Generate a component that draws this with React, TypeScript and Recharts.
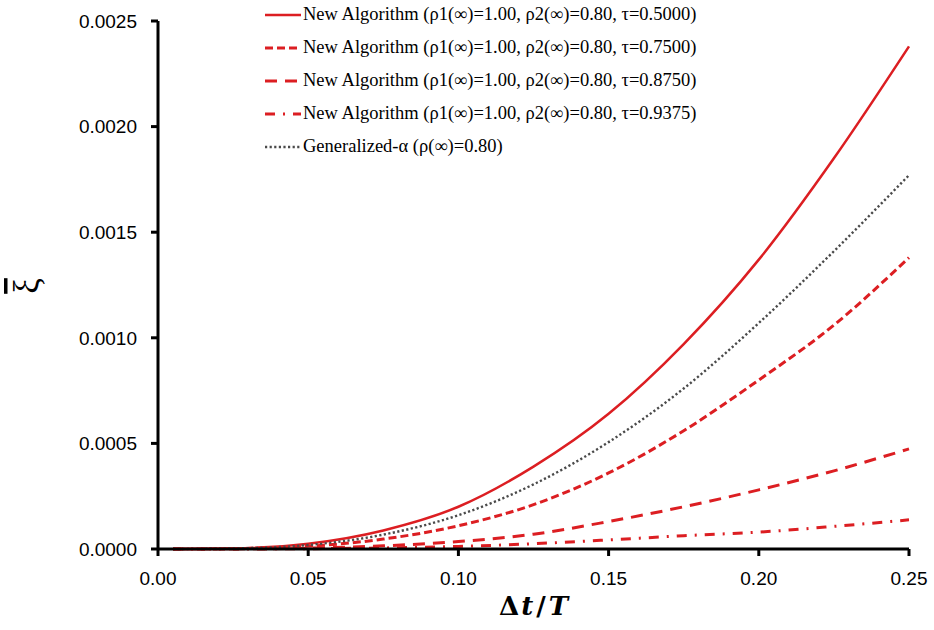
import { LineChart, Line, XAxis, YAxis, Legend, Label } from 'recharts'

// Δt/T sample points and ξ̄ values
const dtT = [0.005, 0.025, 0.05, 0.075, 0.1, 0.125, 0.15, 0.175, 0.2, 0.225, 0.25]
const tau5000 = [0, 0.000003, 0.000025, 0.000088, 0.0002, 0.00039, 0.00064, 0.00097, 0.00137, 0.00185, 0.00238]
const tau7500 = [0, 0.0000016, 0.000013, 0.000047, 0.00011, 0.00021, 0.00036, 0.00056, 0.0008, 0.00106, 0.00138]
const tau8750 = [0, 0.0000005, 0.000004, 0.000015, 0.000035, 0.00007, 0.00013, 0.0002, 0.00028, 0.00037, 0.000474]
const tau9375 = [0, 0.0000002, 0.0000015, 0.000005, 0.000012, 0.000025, 0.000043, 0.000063, 0.00008, 0.000107, 0.000138]
const genAlpha = [0, 0.0000025, 0.000019, 0.000068, 0.00016, 0.000306, 0.000506, 0.00076, 0.00107, 0.00141, 0.00177]

const xTicks = [0, 0.05, 0.1, 0.15, 0.2, 0.25]
const yTicks = [0, 0.0005, 0.001, 0.0015, 0.002, 0.0025]

const RED = '#DC1E22'
const GREY = '#4a4a4a'

const series = [
  { key: 't5000', name: 'New Algorithm (ρ1(∞)=1.00, ρ2(∞)=0.80, τ=0.5000)', color: RED, dash: undefined, width: 2.5 },
  { key: 't7500', name: 'New Algorithm (ρ1(∞)=1.00, ρ2(∞)=0.80, τ=0.7500)', color: RED, dash: '8 4', width: 3 },
  { key: 't8750', name: 'New Algorithm (ρ1(∞)=1.00, ρ2(∞)=0.80, τ=0.8750)', color: RED, dash: '12 8', width: 3 },
  { key: 't9375', name: 'New Algorithm (ρ1(∞)=1.00, ρ2(∞)=0.80, τ=0.9375)', color: RED, dash: '10 8 2 8', width: 3 },
  { key: 'galpha', name: 'Generalized-α (ρ(∞)=0.80)', color: GREY, dash: '2.2 2.4', width: 2.4 },
]

const data = dtT.map((t, i) => ({
  t,
  t5000: tau5000[i],
  t7500: tau7500[i],
  t8750: tau8750[i],
  t9375: tau9375[i],
  galpha: genAlpha[i],
}))

const axisFont = { fontFamily: 'Liberation Sans, Arial, sans-serif', fontSize: 19, fill: '#000' }

function LegendBox() {
  return (
    <div style={{ fontFamily: '"Liberation Serif", "Times New Roman", serif', fontSize: 18.5, color: '#000' }}>
      {series.map((s) => (
        <div key={s.key} style={{ display: 'flex', alignItems: 'center', height: 33, whiteSpace: 'nowrap' }}>
          <svg width={36} height={6} style={{ marginRight: 2 }}>
            <line x1={0} y1={3} x2={36} y2={3} stroke={s.color} strokeWidth={s.width} strokeDasharray={s.dash} />
          </svg>
          <span>{s.name}</span>
        </div>
      ))}
    </div>
  )
}

function XTitle(props: any) {
  const vb = props.viewBox
  const cx = vb.x + vb.width / 2
  return (
    <text x={cx} y={vb.y + 66} textAnchor="middle" fontFamily="DejaVu Serif, serif" fontSize={26} fontWeight="bold" fill="#000">
      <tspan>Δ</tspan>
      <tspan fontStyle="italic" dx={2}>t</tspan>
      <tspan dx={3}>/</tspan>
      <tspan fontStyle="italic" dx={3}>T</tspan>
    </text>
  )
}

function YTitle() {
  return (
    <text
      x={0}
      y={0}
      transform="translate(38, 286) rotate(-90)"
      textAnchor="middle"
      fontFamily="Liberation Serif, serif"
      fontSize={35}
      fill="#000"
      style={{ textDecoration: 'overline' }}
    >
      ξ
    </text>
  )
}

export default function App() {
  return (
    <div style={{ position: 'absolute', left: 0, top: 0, width: 934, height: 630, background: '#fff' }}>
      <LineChart width={934} height={630} data={data} margin={{ top: 21, right: 25, bottom: 51, left: 78 }}>
        <XAxis
          dataKey="t"
          type="number"
          domain={[0, 0.25]}
          ticks={xTicks}
          tickFormatter={(v: number) => v.toFixed(2)}
          axisLine={{ stroke: '#000', strokeWidth: 3 }}
          tickLine={{ stroke: '#000', strokeWidth: 3 }}
          tickSize={7}
          tickMargin={16}
          tick={axisFont}
          height={30}
          interval={0}
        >
          <Label content={<XTitle />} />
        </XAxis>
        <YAxis
          type="number"
          domain={[0, 0.0025]}
          ticks={yTicks}
          tickFormatter={(v: number) => v.toFixed(4)}
          axisLine={{ stroke: '#000', strokeWidth: 3 }}
          tickLine={{ stroke: '#000', strokeWidth: 3 }}
          tickSize={7}
          tickMargin={14}
          tick={axisFont}
          width={80}
          interval={0}
        >
          <Label content={<YTitle />} />
        </YAxis>
        <Legend
          layout="horizontal"
          verticalAlign="middle"
          align="center"
          content={<LegendBox />}
          wrapperStyle={{ top: -2, left: 265, width: 480 }}
        />
        {series.map((s) => (
          <Line
            key={s.key}
            type="monotone"
            dataKey={s.key}
            name={s.name}
            stroke={s.color}
            strokeWidth={s.width}
            strokeDasharray={s.dash}
            dot={false}
            activeDot={false}
            isAnimationActive={false}
          />
        ))}
      </LineChart>
    </div>
  )
}
